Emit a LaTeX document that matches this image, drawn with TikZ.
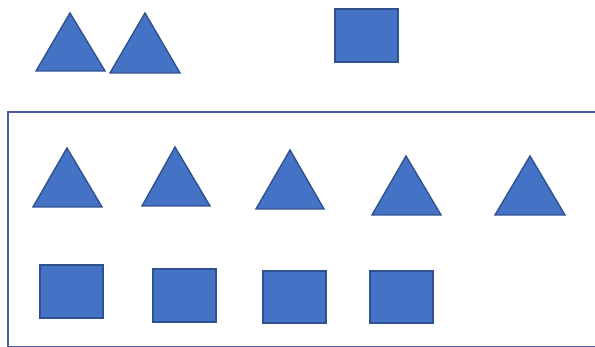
\documentclass[tikz,border=0pt]{standalone}
\usepackage{xcolor}
\usepackage{tikz}

\definecolor{shapeblue}{HTML}{4472C4}
\definecolor{shapeedge}{HTML}{2F528F}
\definecolor{framecol}{HTML}{4E5EA6}

\tikzset{
  piece/.style={fill=shapeblue, draw=shapeedge, line width=0.8pt, line join=miter},
  frame/.style={draw=framecol, line width=1.1pt}
}

\begin{document}
\begin{tikzpicture}[x=0.02cm, y=-0.02cm]
\useasboundingbox (0,0) rectangle (595,347);
\clip (0,0) rectangle (595,347);

% the two triangles and the square above
\draw[piece] (36,71) -- (70,13) -- (105,71) -- cycle;
\draw[piece] (110,73) -- (145,13) -- (180,73) -- cycle;
\draw[piece] (335,9) rectangle (398,62);

% the box
\draw[frame] (8,112) rectangle (604,347);

% row of triangles in the box
\draw[piece] (33,207) -- (67,148) -- (102,207) -- cycle;
\draw[piece] (142,206) -- (175,147) -- (210,206) -- cycle;
\draw[piece] (256,209) -- (290,150) -- (324,209) -- cycle;
\draw[piece] (372,215) -- (406,156) -- (441,215) -- cycle;
\draw[piece] (495,215) -- (530,156) -- (565,215) -- cycle;

% row of squares in the box
\draw[piece] (40,265) rectangle (103,318);
\draw[piece] (153,269) rectangle (216,322);
\draw[piece] (263,271) rectangle (326,323);
\draw[piece] (370,271) rectangle (433,323);
\end{tikzpicture}
\end{document}
